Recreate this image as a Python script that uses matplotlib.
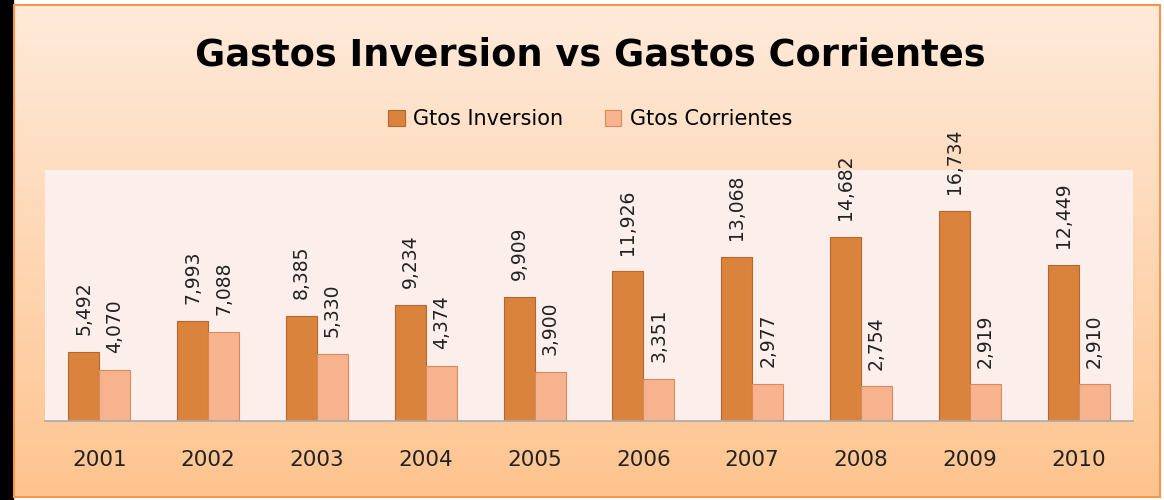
import numpy as np
import matplotlib.pyplot as plt
from matplotlib.patches import Rectangle

years = ["2001", "2002", "2003", "2004", "2005", "2006", "2007", "2008", "2009", "2010"]
inversion = [5492, 7993, 8385, 9234, 9909, 11926, 13068, 14682, 16734, 12449]
corrientes = [4070, 7088, 5330, 4374, 3900, 3351, 2977, 2754, 2919, 2910]

plt.rcParams["font.family"] = ["DejaVu Sans"]

W, H = 1164, 500
fig = plt.figure(figsize=(W / 100, H / 100), dpi=100)
fig.patch.set_facecolor("white")

# background gradient of the chart area
bg = fig.add_axes([0, 0, 1, 1], zorder=0)
bg.set_xlim(0, W)
bg.set_ylim(H, 0)
bg.axis("off")
top = np.array([254, 234, 218]) / 255
bot = np.array([255, 196, 143]) / 255
t = np.linspace(0, 1, 256)[:, None]
grad = (top[None, :] * (1 - t) + bot[None, :] * t)[:, None, :]
bg.imshow(grad, extent=[14, 1160, 497, 5], aspect="auto", interpolation="bilinear")
bg.add_patch(Rectangle((0, 0), 13, H, color="black"))
bg.add_patch(Rectangle((14, 5), 1146, 492, fill=False, edgecolor="#F79646", linewidth=1.5))

ax = fig.add_axes([45 / W, 1 - 421 / H, (1133 - 45) / W, (421 - 170) / H], zorder=1)
ax.set_facecolor("#FCEFEB")

x = np.arange(len(years))
w = 0.285
b1 = ax.bar(x - w / 2, inversion, w, color="#D9833D", edgecolor="#B8662B", linewidth=0.8,
            label="Gtos Inversion")
b2 = ax.bar(x + w / 2, corrientes, w, color="#F7B38D", edgecolor="#D98A5C", linewidth=0.8,
            label="Gtos Corrientes")

for bars, vals in [(b1, inversion), (b2, corrientes)]:
    for bar, v in zip(bars, vals):
        ax.annotate(f"{v:,}", (bar.get_x() + bar.get_width() / 2, v),
                    xytext=(0, 12), textcoords="offset points", rotation=90,
                    ha="center", va="bottom", fontsize=13.5, color="#222222")

ax.set_xlim(-0.5, len(years) - 0.5)
ax.set_ylim(0, 20000)
ax.set_yticks([])
ax.set_xticks(x)
ax.set_xticklabels(years, fontsize=15.5, color="#222222")
ax.tick_params(axis="x", length=0, pad=21)
for s in ["top", "left", "right"]:
    ax.spines[s].set_visible(False)
ax.spines["bottom"].set_color("#A9A9A9")
ax.spines["bottom"].set_linewidth(1.2)

fig.text(590 / W, 1 - 55 / H, "Gastos Inversion vs Gastos Corrientes", ha="center", va="center",
         fontsize=26.5, fontweight="bold", color="black")
fig.legend(loc="center", bbox_to_anchor=(590 / W, 1 - 119 / H), ncol=2, frameon=False,
           fontsize=15, handlelength=0.8, handleheight=0.8, columnspacing=2.0, handletextpad=0.4)

fig.savefig("out.png", dpi=100)
